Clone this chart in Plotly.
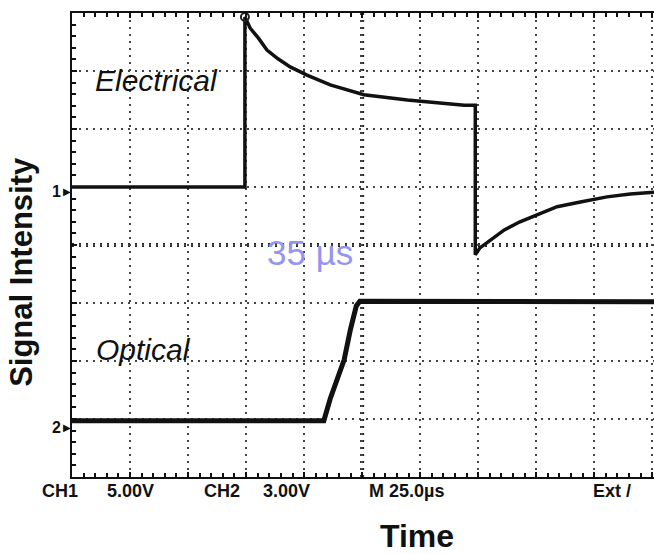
import plotly.graph_objects as go

# Electrical trace (x in time divisions, y in vertical divisions)
elec_x = [0.0, 2.98, 2.98, 3.07, 3.21, 3.36, 3.55, 3.76, 4.05, 4.45, 5.03, 5.78, 6.34, 6.76, 6.95,
          6.95, 7.03, 7.21, 7.45, 7.72, 8.07, 8.36, 8.76, 9.22, 9.62, 10.03]
elec_y = [5.0, 5.0, 7.93, 7.74, 7.57, 7.36, 7.21, 7.07, 6.93, 6.76, 6.59, 6.50, 6.45, 6.41, 6.41,
          3.83, 3.95, 4.09, 4.26, 4.40, 4.55, 4.66, 4.74, 4.83, 4.88, 4.91]

# Optical trace
opt_x = [0.0, 4.34, 4.45, 4.57, 4.69, 4.80, 4.90, 4.96, 5.5, 6.5, 7.5, 8.5, 10.03]
opt_y = [0.97, 0.97, 1.35, 1.70, 2.02, 2.55, 2.95, 3.03, 3.03, 3.03, 3.03, 3.02, 3.02]

# Peak marker
peak_x = [2.98]
peak_y = [7.93]

# Channel reference levels
ch_labels = ["1", "2"]
ch_levels = [4.93, 0.85]

# Readout texts along the bottom (paper x positions)
readout_text = ["CH1", "5.00V", "CH2", "3.00V", "M 25.0µs", "Ext /"]
readout_x = [-0.021, 0.101, 0.258, 0.369, 0.574, 0.928]

fig = go.Figure()
fig.add_trace(go.Scatter(x=opt_x, y=opt_y, mode="lines",
                         line=dict(color="#111111", width=5), showlegend=False))
fig.add_trace(go.Scatter(x=elec_x, y=elec_y, mode="lines",
                         line=dict(color="#111111", width=3.5), showlegend=False))
fig.add_trace(go.Scatter(x=peak_x, y=peak_y, mode="markers",
                         marker=dict(symbol="circle-open", size=8, color="#222222",
                                     line=dict(width=2)),
                         cliponaxis=False, showlegend=False))

# Center crosshair (tick-marked graticule lines)
fig.add_shape(type="line", x0=5, x1=5, y0=0, y1=8, layer="below",
              line=dict(color="#222222", width=4, dash="2px,5px"))
fig.add_shape(type="line", x0=0, x1=10, y0=4, y1=4, layer="below",
              line=dict(color="#222222", width=4, dash="2px,5px"))

ann = []
ann.append(dict(x=1.45, y=6.83, xref="x", yref="y", text="<i>Electrical</i>", showarrow=False,
                font=dict(family="Liberation Sans, Arial, sans-serif", size=30, color="#111111")))
ann.append(dict(x=1.24, y=2.2, xref="x", yref="y", text="<i>Optical</i>", showarrow=False,
                font=dict(family="Liberation Sans, Arial, sans-serif", size=30, color="#111111")))
ann.append(dict(x=4.10, y=3.87, xref="x", yref="y", text="35 µs", showarrow=False,
                font=dict(family="Liberation Sans, Arial, sans-serif", size=35, color="#9595f0")))
for lab, lev in zip(ch_labels, ch_levels):
    ann.append(dict(x=0, y=lev, xref="x", yref="y", text="▶", showarrow=False,
                    xanchor="right", xshift=1,
                    font=dict(family="DejaVu Sans, sans-serif", size=10, color="#111111")))
    ann.append(dict(x=0, y=lev, xref="x", yref="y", text="<b>" + lab + "</b>", showarrow=False,
                    xanchor="right", xshift=-9,
                    font=dict(family="Liberation Sans, Arial, sans-serif", size=16, color="#111111")))
for t, xv in zip(readout_text, readout_x):
    ann.append(dict(x=xv, y=-0.030, xref="paper", yref="paper", text="<b>" + t + "</b>",
                    showarrow=False, xanchor="center", yanchor="middle",
                    font=dict(family="Liberation Sans, Arial, sans-serif",
                              size=18, color="#111111")))
ann.append(dict(x=-0.086, y=0.442, xref="paper", yref="paper", text="<b>Signal Intensity</b>",
                textangle=-90, showarrow=False, xanchor="center", yanchor="middle",
                font=dict(family="Liberation Sans, Arial, sans-serif", size=31, color="#111111")))
ann.append(dict(x=0.593, y=-0.127, xref="paper", yref="paper", text="<b>Time</b>",
                showarrow=False, xanchor="center", yanchor="middle",
                font=dict(family="Liberation Sans, Arial, sans-serif", size=32, color="#111111")))

fig.update_layout(
    width=654, height=554,
    margin=dict(l=72, r=0, t=13, b=77),
    paper_bgcolor="white", plot_bgcolor="white",
    annotations=ann,
    xaxis=dict(range=[0, 10.03], dtick=1, tick0=0, showgrid=True, gridcolor="#444444",
               gridwidth=2, griddash="2px,5px", zeroline=False, showticklabels=False,
               showline=True, linecolor="#111111", linewidth=2, mirror="allticks",
               ticks="inside", ticklen=5, tickwidth=2, tickcolor="#111111",
               minor=dict(dtick=0.2, ticks="inside", ticklen=4, tickwidth=2,
                          tickcolor="#111111", showgrid=False)),
    yaxis=dict(range=[0, 8], dtick=1, tick0=0, showgrid=True, gridcolor="#444444",
               gridwidth=2, griddash="2px,5px", zeroline=False, showticklabels=False,
               showline=True, linecolor="#111111", linewidth=2, mirror=False,
               ticks="inside", ticklen=5, tickwidth=2, tickcolor="#111111",
               minor=dict(dtick=0.2, ticks="inside", ticklen=4, tickwidth=2,
                          tickcolor="#111111", showgrid=False)),
)

fig.write_html("out.html", config={"displayModeBar": False},
               post_script="document.body.style.margin='0';")
